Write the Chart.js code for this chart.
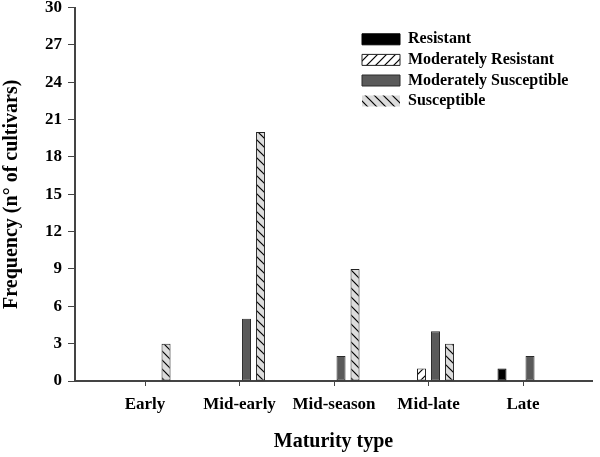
<!DOCTYPE html>
<html><head><meta charset="utf-8">
<script src="https://cdn.jsdelivr.net/npm/chart.js@4"></script>
<style>html,body{margin:0;padding:0;background:#fff}#wrap{width:600px;height:457px}</style>
</head><body><div id="wrap"><canvas id="c" width="600" height="457"></canvas></div>
<script>
// ---- data ----
const categories = ['Early', 'Mid-early', 'Mid-season', 'Mid-late', 'Late'];
const seriesNames = ['Resistant', 'Moderately Resistant', 'Moderately Susceptible', 'Susceptible'];
const resistant = [0, 0, 0, 0, 1];
const moderatelyResistant = [0, 0, 0, 1, 0];
const moderatelySusceptible = [0, 5, 2, 4, 2];
const susceptible = [3, 20, 9, 3, 0];
const yTickStep = 3;
const yMax = 30;
const xTitle = 'Maturity type';
const yTitle = 'Frequency (n\u00B0 of cultivars)';

// ---- patterns ----
function hatch(bg, dir, n) {
  const c = document.createElement('canvas');
  c.width = n; c.height = n;
  const g = c.getContext('2d');
  g.fillStyle = bg; g.fillRect(0, 0, n, n);
  g.strokeStyle = '#000'; g.lineWidth = 1.2;
  for (const o of [-n, 0, n]) {
    g.beginPath();
    if (dir === '/') { g.moveTo(o - 1, n + 1); g.lineTo(o + n + 1, -1); }
    else { g.moveTo(o - 1, -1); g.lineTo(o + n + 1, n + 1); }
    g.stroke();
  }
  return g.createPattern(c, 'repeat');
}
const ctx = document.getElementById('c').getContext('2d');
const fills = ['#000000', hatch('#ffffff', '/', 9), '#5a5a5a', hatch('#dcdcdc', '\\', 9)];
const borders = ['#000000', '#222222', '#2a2a2a', '#222222'];
const values = [resistant, moderatelyResistant, moderatelySusceptible, susceptible];

const datasets = seriesNames.map((name, k) => ({
  label: name,
  data: categories.map((c, i) => ({ x: i, y: values[k][i] })),
  backgroundColor: fills[k],
  borderColor: borders[k],
  borderWidth: 1,
  borderSkipped: false,
  categoryPercentage: 0.593,
  barPercentage: 0.643
}));

const serif = 'Liberation Serif, Times New Roman, serif';

const legendPlace = {
  id: 'legendPlace',
  afterLayout(chart) {
    const L = chart.legend; if (!L) return;
    L.left = 357.4; L.top = 26.7; L.right = L.left + 240; L.bottom = L.top + 200;
  }
};

new Chart(ctx, {
  type: 'bar',
  data: { datasets },
  plugins: [legendPlace],
  options: {
    responsive: false,
    animation: false,
    layout: { padding: { left: 0, right: 8, top: 7.5, bottom: 0 } },
    plugins: {
      tooltip: { enabled: false },
      legend: {
        position: 'chartArea',
        align: 'start',
        labels: {
          boxWidth: 38, boxHeight: 11, padding: 4.6,
          color: '#000',
          font: { family: serif, size: 16, weight: 'bold' },
          generateLabels(chart) {
            const items = Chart.defaults.plugins.legend.labels.generateLabels(chart);
            items[3].lineWidth = 0;
            return items;
          }
        }
      }
    },
    scales: {
      x: {
        type: 'linear',
        offset: false,
        min: -0.741, max: 4.73,
        afterFit(s) { s.height = 76; s.paddingLeft = 0; s.paddingRight = 0; },
        afterBuildTicks(s) {
          s.ticks = categories.map((c, i) => ({ value: i }));
        },
        ticks: {
          stepSize: 1, autoSkip: false, maxRotation: 0, padding: 8, color: '#000',
          font: { family: serif, size: 17, weight: 'bold', lineHeight: 1.2 },
          callback: v => categories[v]
        },
        grid: { offset: false, drawOnChartArea: false, drawTicks: true, tickLength: 5, color: '#444', lineWidth: 1 },
        border: { display: true, color: '#444', width: 2 },
        title: {
          display: true, text: xTitle, color: '#000',
          font: { family: serif, size: 20, weight: 'bold' },
          padding: { top: 0, bottom: 3 }
        }
      },
      y: {
        min: 0, max: yMax,
        afterFit(s) { s.width = 75; s.paddingTop = 0; s.paddingBottom = 0; },
        ticks: {
          stepSize: yTickStep, padding: 6, color: '#000',
          font: { family: serif, size: 17, weight: 'bold', lineHeight: 1.0 }
        },
        grid: { drawOnChartArea: false, drawTicks: true, tickLength: 7, color: '#444', lineWidth: 1 },
        border: { display: true, color: '#444', width: 2 },
        title: {
          display: true, text: yTitle, color: '#000',
          font: { family: serif, size: 20, weight: 'bold' },
          padding: { top: 0, bottom: 0 }
        }
      }
    }
  }
});
</script>
</body></html>
